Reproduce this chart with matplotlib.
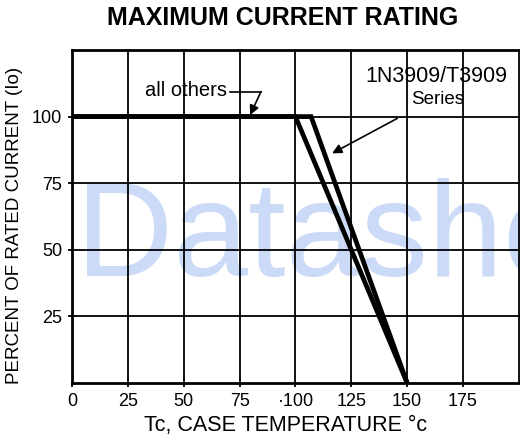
import matplotlib
matplotlib.use("Agg")
import matplotlib.pyplot as plt

plt.rcParams['font.family'] = ['Liberation Sans', 'DejaVu Sans']

# derating curves: case temperature (C) vs percent of rated current
temp_others = [0, 100, 150]
pct_others = [100, 100, 0]
temp_1n3909 = [0, 107, 150]
pct_1n3909 = [100, 100, 0]

x_ticks = [0, 25, 50, 75, 100, 125, 150, 175]
x_tick_labels = ["0", "25", "50", "75", "\u00b7100", "125", "150", "175"]
y_ticks = [25, 50, 75, 100]
y_tick_labels = ["25", "50", "75", "100"]

fig = plt.figure(figsize=(5.2, 4.4), dpi=100)
ax = fig.add_axes([72 / 520, 1 - 383 / 440, 1 - 72 / 520, (383 - 50) / 440])

# scanned datasheet watermark
ax.text(76 / 520, 1 - 276 / 440, "Datasheet", transform=fig.transFigure,
        fontsize=97, color="#cbdaf7", ha="left", va="baseline", zorder=0.5)

ax.plot(temp_others, pct_others, color="black", lw=3.4, zorder=3,
        solid_joinstyle="miter")
ax.plot(temp_1n3909, pct_1n3909, color="black", lw=3.4, zorder=3,
        solid_joinstyle="miter")

ax.set_xlim(0, 200.5)
ax.set_ylim(0, 125)
ax.set_xticks(x_ticks, x_tick_labels, fontsize=13)
ax.set_yticks(y_ticks, y_tick_labels, fontsize=13)
ax.set_xticks([200], minor=True)
ax.set_yticks([125], minor=True)
ax.grid(True, which="both", color="black", lw=1.3)
ax.tick_params(length=3, width=1.3, direction="out", pad=4)
ax.tick_params(which="minor", length=0)
for side in ["left", "bottom", "top"]:
    ax.spines[side].set_linewidth(2)
ax.spines["right"].set_visible(False)

# labels on the chart
ax.text(32.5, 109.8, "all others", fontsize=14.5, va="center", ha="left")
ax.plot([70.5, 84.6], [109.4, 109.4], color="black", lw=1.2, zorder=3)
ax.annotate("", xy=(79.7, 100.6), xytext=(84.6, 109.4),
            arrowprops=dict(arrowstyle="-|>", color="black", lw=1.2,
                            mutation_scale=14, shrinkA=0, shrinkB=0))
ax.text(163, 115.2, "1N3909/T3909", fontsize=15.5, ha="center", va="center")
ax.text(163.5, 106.3, "Series", fontsize=13.5, ha="center", va="center")
ax.annotate("", xy=(116.4, 86.2), xytext=(145.5, 99.3),
            arrowprops=dict(arrowstyle="-|>", color="black", lw=1.2,
                            mutation_scale=14, shrinkA=0, shrinkB=0))

fig.text(283 / 520, 1 - 18 / 440, "MAXIMUM CURRENT RATING", fontsize=18,
         fontweight="bold", ha="center", va="center")
fig.text(286 / 520, 1 - 425 / 440, "Tc, CASE TEMPERATURE \u00b0c", fontsize=15.5,
         ha="center", va="center")
fig.text(15 / 520, 1 - 225 / 440, "PERCENT OF RATED CURRENT (Io)", fontsize=13.5,
         rotation=90, ha="center", va="center")

fig.savefig("out.png", dpi=100)
